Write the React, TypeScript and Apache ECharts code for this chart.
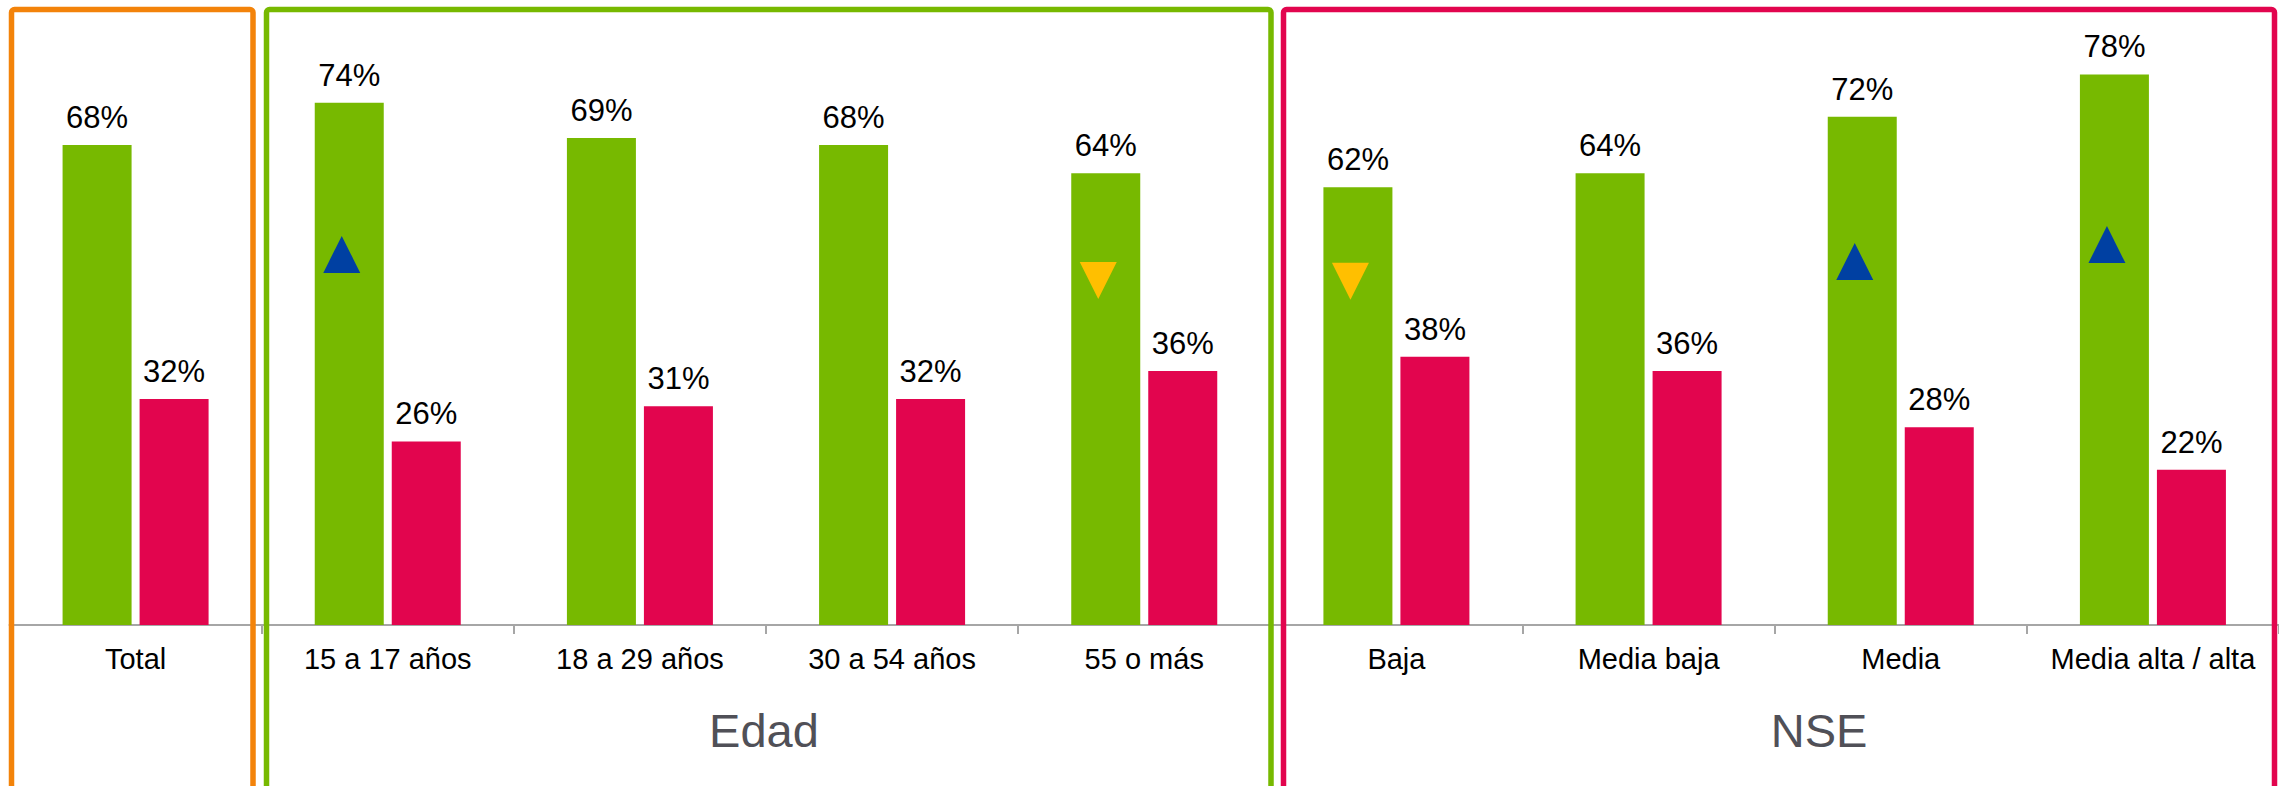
import React, { useEffect, useRef } from "react";
import * as echarts from "echarts";

const categories = [
  "Total",
  "15 a 17 años",
  "18 a 29 años",
  "30 a 54 años",
  "55 o más",
  "Baja",
  "Media baja",
  "Media",
  "Media alta / alta",
];
const greenValues = [68, 74, 69, 68, 64, 62, 64, 72, 78];
const pinkValues = [32, 26, 31, 32, 36, 38, 36, 28, 22];
// significance markers (position on value scale), null = none
const upMarkers = [null, 52.5, null, null, null, null, null, 51.5, 53.9];
const downMarkers = [null, null, null, null, 48.8, 48.7, null, null, null];
const groupLabels = ["Edad", "NSE"];

const GREEN = "#77B900";
const PINK = "#E2054E";
const ORANGE = "#F3830A";
const BLUE = "#0040A2";
const YELLOW = "#FFBF00";
const FONT = "'Liberation Sans', Arial, sans-serif";

export default function App() {
  const ref = useRef<HTMLDivElement>(null);
  useEffect(() => {
    if (!ref.current) return;
    const chart = echarts.init(ref.current, undefined, { renderer: "svg" });
    const labelStyle = {
      show: true,
      position: "top",
      distance: 12,
      color: "#000",
      fontSize: 31,
      fontFamily: FONT,
      formatter: (p: any) => p.value + "%",
    };
    chart.setOption({
      animation: false,
      backgroundColor: "#fff",
      grid: { left: 9.5, width: 2271, top: 25, bottom: 161 },
      xAxis: {
        type: "category",
        data: categories,
        axisLine: { lineStyle: { color: "#a6a6a6", width: 2 } },
        axisTick: { show: true, length: 9, lineStyle: { color: "#a6a6a6", width: 2 } },
        axisLabel: {
          interval: 0,
          margin: 19,
          color: "#000",
          fontSize: 29,
          fontFamily: FONT,
        },
      },
      yAxis: {
        type: "value",
        min: 0,
        max: 85,
        show: false,
        splitLine: { show: false },
      },
      series: [
        {
          type: "bar",
          data: greenValues,
          barWidth: 69,
          barGap: "11.6%",
          itemStyle: { color: GREEN },
          label: labelStyle,
        },
        {
          type: "bar",
          data: pinkValues,
          barWidth: 69,
          barGap: "11.6%",
          itemStyle: { color: PINK },
          label: labelStyle,
        },
        {
          type: "scatter",
          data: upMarkers,
          symbol: "triangle",
          symbolSize: [37, 37],
          symbolOffset: [-46, 0],
          itemStyle: { color: BLUE, opacity: 1 },
          z: 10,
        },
        {
          type: "scatter",
          data: downMarkers,
          symbol: "triangle",
          symbolRotate: 180,
          symbolSize: [37, 37],
          symbolOffset: [-46, 0],
          itemStyle: { color: YELLOW, opacity: 1 },
          z: 10,
        },
      ],
      graphic: [
        {
          type: "rect",
          z: 100,
          shape: { x: 11.5, y: 9.5, width: 241.5, height: 790, r: 3 },
          style: { fill: "none", stroke: ORANGE, lineWidth: 5.5 },
        },
        {
          type: "rect",
          z: 100,
          shape: { x: 266.5, y: 9.5, width: 1004.5, height: 790, r: 3 },
          style: { fill: "none", stroke: GREEN, lineWidth: 5.5 },
        },
        {
          type: "rect",
          z: 100,
          shape: { x: 1283.5, y: 9.5, width: 991, height: 790, r: 3 },
          style: { fill: "none", stroke: PINK, lineWidth: 5.5 },
        },
        {
          type: "text",
          z: 100,
          x: 764,
          y: 730,
          style: {
            text: groupLabels[0],
            fill: "#505057",
            fontSize: 47,
            fontFamily: FONT,
            align: "center",
            verticalAlign: "middle",
          },
        },
        {
          type: "text",
          z: 100,
          x: 1819,
          y: 730,
          style: {
            text: groupLabels[1],
            fill: "#505057",
            fontSize: 47,
            fontFamily: FONT,
            align: "center",
            verticalAlign: "middle",
          },
        },
      ],
    });
    return () => chart.dispose();
  }, []);
  return (
    <div
      ref={ref}
      style={{ position: "fixed", left: 0, top: 0, width: 2279, height: 786 }}
    />
  );
}
